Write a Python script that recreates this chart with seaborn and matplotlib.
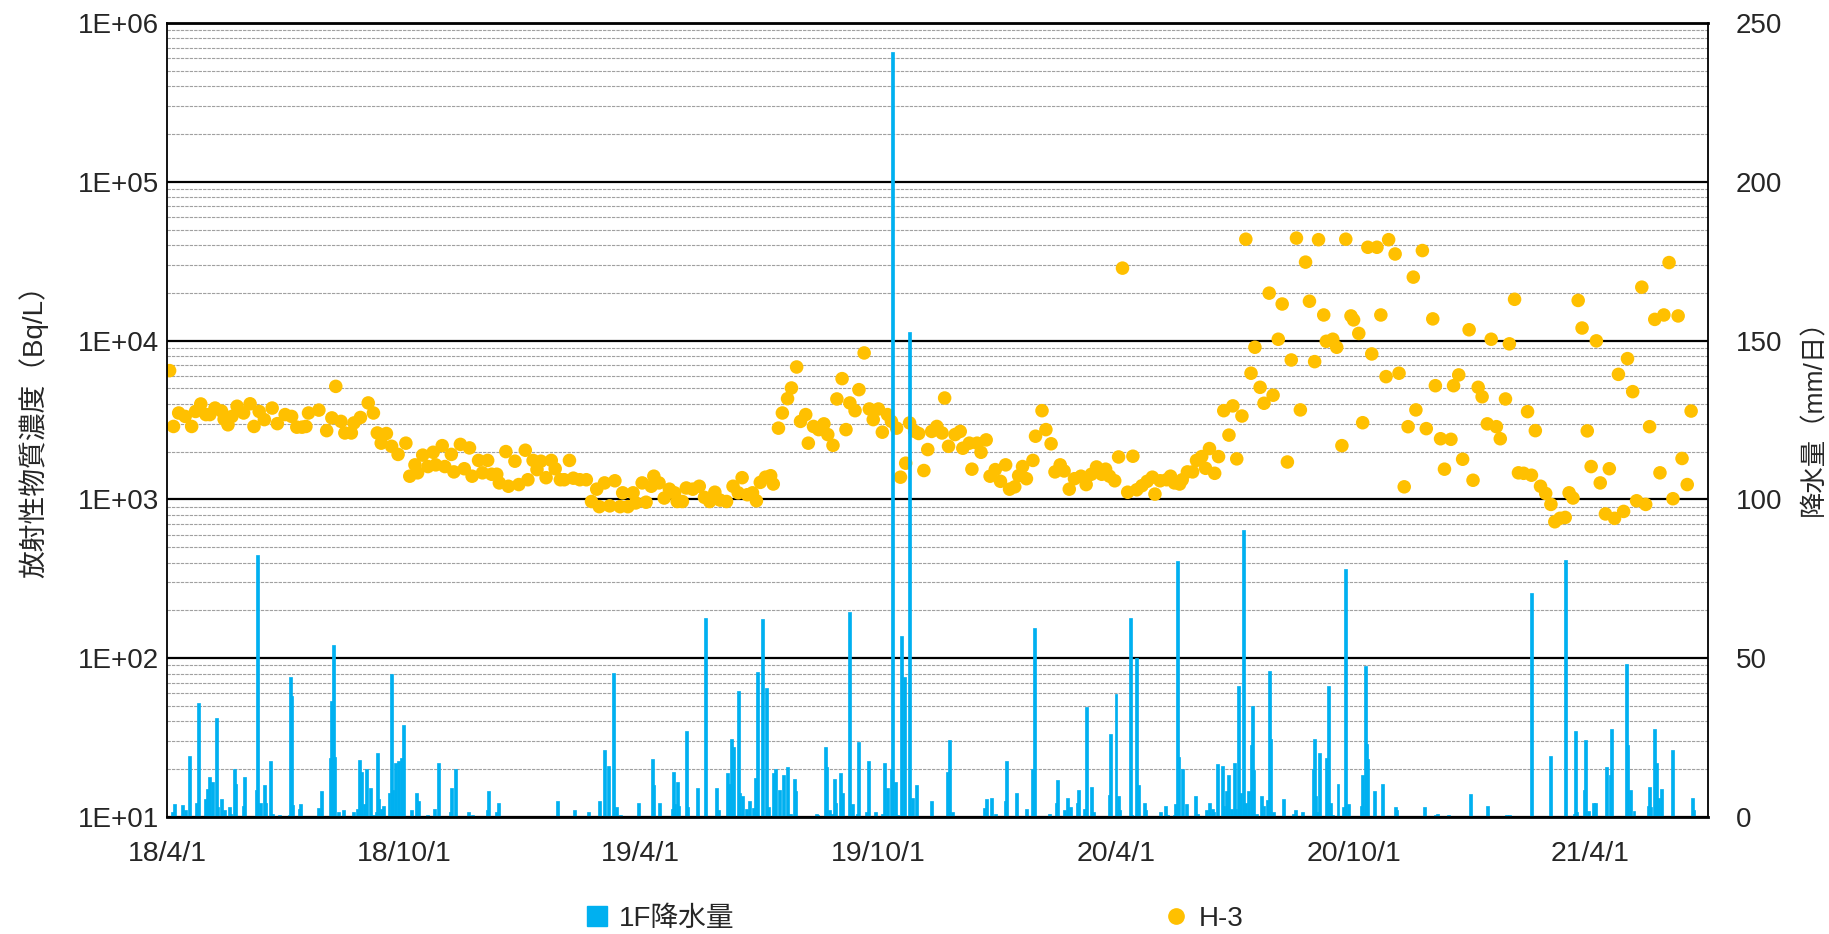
import pandas as pd
import seaborn as sns
import matplotlib
matplotlib.use("Agg")
from matplotlib import pyplot as plt
import matplotlib.dates as mdates
from matplotlib.ticker import LogLocator, FuncFormatter, NullFormatter, MultipleLocator
from matplotlib.lines import Line2D

sns.set_style("white")
plt.rcParams['font.family'] = ['Liberation Sans', 'Noto Sans CJK JP']

# H-3 concentration (Bq/L)
h3_dates = [
    "2018-04-03", "2018-04-06", "2018-04-10", "2018-04-15", "2018-04-20", "2018-04-23", "2018-04-27",
    "2018-05-01", "2018-05-04", "2018-05-08", "2018-05-13", "2018-05-15", "2018-05-18", "2018-05-21",
    "2018-05-25", "2018-05-30", "2018-06-04", "2018-06-07", "2018-06-11", "2018-06-15", "2018-06-21",
    "2018-06-25", "2018-07-01", "2018-07-06", "2018-07-10", "2018-07-14", "2018-07-17", "2018-07-19",
    "2018-07-27", "2018-08-02", "2018-08-06", "2018-08-09", "2018-08-13", "2018-08-16", "2018-08-21",
    "2018-08-23", "2018-08-28", "2018-09-03", "2018-09-07", "2018-09-10", "2018-09-13", "2018-09-17",
    "2018-09-21", "2018-09-26", "2018-10-02", "2018-10-05", "2018-10-09", "2018-10-11", "2018-10-15",
    "2018-10-19", "2018-10-23", "2018-10-25", "2018-10-30", "2018-11-01", "2018-11-06", "2018-11-08",
    "2018-11-13", "2018-11-16", "2018-11-20", "2018-11-22", "2018-11-27", "2018-11-30", "2018-12-04",
    "2018-12-07", "2018-12-11", "2018-12-13", "2018-12-18", "2018-12-20", "2018-12-25", "2018-12-28",
    "2019-01-02", "2019-01-04", "2019-01-08", "2019-01-11", "2019-01-14", "2019-01-18", "2019-01-22",
    "2019-01-25", "2019-01-29", "2019-02-01", "2019-02-05", "2019-02-08", "2019-02-13", "2019-02-18",
    "2019-02-22", "2019-02-26", "2019-02-28", "2019-03-04", "2019-03-08", "2019-03-12", "2019-03-16",
    "2019-03-18", "2019-03-22", "2019-03-26", "2019-03-28", "2019-04-02", "2019-04-05", "2019-04-09",
    "2019-04-11", "2019-04-15", "2019-04-19", "2019-04-23", "2019-04-27", "2019-04-29", "2019-05-03",
    "2019-05-06", "2019-05-11", "2019-05-16", "2019-05-20", "2019-05-24", "2019-05-28", "2019-06-01",
    "2019-06-06", "2019-06-11", "2019-06-15", "2019-06-18", "2019-06-22", "2019-06-26", "2019-06-29",
    "2019-07-02", "2019-07-06", "2019-07-10", "2019-07-12", "2019-07-16", "2019-07-19", "2019-07-23",
    "2019-07-26", "2019-07-30", "2019-08-02", "2019-08-06", "2019-08-08", "2019-08-12", "2019-08-16",
    "2019-08-20", "2019-08-23", "2019-08-27", "2019-08-30", "2019-09-03", "2019-09-06", "2019-09-09",
    "2019-09-13", "2019-09-16", "2019-09-20", "2019-09-24", "2019-09-27", "2019-10-01", "2019-10-04",
    "2019-10-08", "2019-10-11", "2019-10-15", "2019-10-18", "2019-10-22", "2019-10-25", "2019-10-29",
    "2019-11-01", "2019-11-05", "2019-11-08", "2019-11-11", "2019-11-15", "2019-11-19", "2019-11-21",
    "2019-11-24", "2019-11-29", "2019-12-03", "2019-12-05", "2019-12-10", "2019-12-12", "2019-12-16",
    "2019-12-19", "2019-12-23", "2019-12-26", "2019-12-30", "2020-01-03", "2020-01-07", "2020-01-10",
    "2020-01-14", "2020-01-17", "2020-01-20", "2020-01-23", "2020-01-28", "2020-01-30", "2020-02-04",
    "2020-02-07", "2020-02-11", "2020-02-14", "2020-02-18", "2020-02-21", "2020-02-25", "2020-02-29",
    "2020-03-05", "2020-03-09", "2020-03-13", "2020-03-17", "2020-03-21", "2020-03-24", "2020-03-27",
    "2020-03-31", "2020-04-03", "2020-04-06", "2020-04-10", "2020-04-14", "2020-04-17", "2020-04-21",
    "2020-04-25", "2020-04-29", "2020-05-01", "2020-05-05", "2020-05-10", "2020-05-13", "2020-05-16",
    "2020-05-20", "2020-05-22", "2020-05-26", "2020-05-30", "2020-06-02", "2020-06-06", "2020-06-09",
    "2020-06-12", "2020-06-16", "2020-06-19", "2020-06-23", "2020-06-27", "2020-06-30", "2020-07-03",
    "2020-07-07", "2020-07-10", "2020-07-14", "2020-07-17", "2020-07-21", "2020-07-24", "2020-07-28",
    "2020-07-31", "2020-08-04", "2020-08-07", "2020-08-11", "2020-08-14", "2020-08-18", "2020-08-21",
    "2020-08-25", "2020-08-28", "2020-09-01", "2020-09-04", "2020-09-08", "2020-09-10", "2020-09-15",
    "2020-09-18", "2020-09-22", "2020-09-25", "2020-09-29", "2020-10-01", "2020-10-05", "2020-10-08",
    "2020-10-12", "2020-10-15", "2020-10-19", "2020-10-22", "2020-10-26", "2020-10-28", "2020-11-02",
    "2020-11-05", "2020-11-09", "2020-11-12", "2020-11-16", "2020-11-18", "2020-11-23", "2020-11-26",
    "2020-12-01", "2020-12-03", "2020-12-07", "2020-12-10", "2020-12-15", "2020-12-17", "2020-12-21",
    "2020-12-24", "2020-12-29", "2021-01-01", "2021-01-05", "2021-01-08", "2021-01-12", "2021-01-15",
    "2021-01-19", "2021-01-22", "2021-01-26", "2021-01-29", "2021-02-02", "2021-02-05", "2021-02-09",
    "2021-02-12", "2021-02-15", "2021-02-18", "2021-02-22", "2021-02-26", "2021-03-02", "2021-03-05",
    "2021-03-09", "2021-03-13", "2021-03-16", "2021-03-19", "2021-03-23", "2021-03-26", "2021-03-30",
    "2021-04-02", "2021-04-06", "2021-04-09", "2021-04-13", "2021-04-16", "2021-04-20", "2021-04-23",
    "2021-04-27", "2021-04-30", "2021-05-04", "2021-05-07", "2021-05-11", "2021-05-14", "2021-05-17",
    "2021-05-21", "2021-05-25", "2021-05-28", "2021-06-01", "2021-06-04", "2021-06-08", "2021-06-11",
    "2021-06-15", "2021-06-18",
]
h3_values = [
    6470, 2880, 3500, 3330, 2880, 3580, 3990,
    3420, 3420, 3760, 3600, 3200, 2950, 3330,
    3860, 3500, 4000, 2880, 3580, 3180, 3760,
    3000, 3420, 3330, 2850, 2850, 2880, 3500,
    3650, 2710, 3260, 5150, 3100, 2620, 2620,
    3030, 3280, 4050, 3500, 2620, 2260, 2600,
    2160, 1920, 2260, 1400, 1650, 1470, 1900,
    1610, 1980, 1650, 2180, 1610, 1920, 1490,
    2220, 1560, 2110, 1400, 1760, 1470, 1760,
    1440, 1440, 1270, 2000, 1210, 1740, 1240,
    2040, 1330, 1760, 1540, 1740, 1370, 1760,
    1560, 1330, 1330, 1760, 1360, 1330, 1330,
    970, 1160, 900, 1270, 910, 1310, 900,
    1100, 900, 1100, 950, 1270, 960, 1210,
    1400, 1270, 1020, 1160, 1100, 970, 970,
    1180, 1160, 1210, 1030, 970, 1110, 990,
    970, 1210, 1100, 1370, 1070, 1100, 980,
    1280, 1380, 1410, 1250, 2810, 3500, 4310,
    5030, 6820, 3100, 3420, 2260, 2880, 2750,
    2990, 2560, 2190, 4290, 5760, 2750, 4050,
    3620, 4910, 8360, 3710, 3180, 3710, 2650,
    3420, 3100, 2810, 1380, 1690, 3030, 2680,
    2600, 1520, 2060, 2680, 2880, 2620, 4350,
    2160, 2560, 2680, 2100, 2260, 1550, 2260,
    1980, 2370, 1400, 1540, 1300, 1650, 1160,
    1200, 1410, 1610, 1350, 1760, 2500, 3620,
    2750, 2240, 1490, 1650, 1510, 1160, 1350,
    1400, 1240, 1440, 1600, 1440, 1550, 1400,
    1310, 1850, 28600, 1110, 1870, 1150, 1220,
    1300, 1380, 1080, 1310, 1330, 1400, 1270,
    1250, 1330, 1490, 1490, 1760, 1860, 1570,
    2090, 1460, 1860, 3620, 2540, 3880, 1800,
    3350, 43500, 6230, 9080, 5080, 4030, 19900,
    4530, 10200, 17000, 1720, 7550, 44200, 3660,
    31200, 17700, 7370, 43200, 14500, 9900, 10200,
    9080, 2180, 43500, 14300, 13500, 11100, 3040,
    38700, 8240, 38700, 14500, 5930, 43200, 35100,
    6230, 1200, 2870, 25100, 3660, 36900, 2790,
    13700, 5200, 2410, 1550, 2390, 5200, 6080,
    1790, 11700, 1320, 5080, 4430, 2990, 10200,
    2870, 2410, 4290, 9540, 18200, 1470, 1460,
    3570, 1420, 2710, 1210, 1090, 930, 723,
    760, 770, 1100, 1020, 17900, 12000, 2700,
    1610, 9960, 1270, 810, 1560, 760, 6130,
    840, 7700, 4770, 980, 21700, 930, 2870,
    13600, 1470, 14500, 31000, 1010, 14300, 1810,
    1240, 3600,
]

# 1F daily precipitation (mm/day), days with rain
rain_dates = [
    "2018-04-05", "2018-04-07", "2018-04-13", "2018-04-15", "2018-04-18", "2018-04-24", "2018-04-25",
    "2018-05-01", "2018-05-02", "2018-05-04", "2018-05-06", "2018-05-09", "2018-05-10", "2018-05-13",
    "2018-05-15", "2018-05-19", "2018-05-20", "2018-05-23", "2018-05-24", "2018-05-30", "2018-05-31",
    "2018-06-09", "2018-06-10", "2018-06-12", "2018-06-15", "2018-06-16", "2018-06-20", "2018-06-21",
    "2018-06-27", "2018-07-04", "2018-07-05", "2018-07-06", "2018-07-07", "2018-07-12", "2018-07-13",
    "2018-07-27", "2018-07-29", "2018-08-05", "2018-08-06", "2018-08-07", "2018-08-08", "2018-08-11",
    "2018-08-15", "2018-08-23", "2018-08-26", "2018-08-27", "2018-08-29", "2018-08-31", "2018-09-02",
    "2018-09-05", "2018-09-07", "2018-09-09", "2018-09-10", "2018-09-11", "2018-09-13", "2018-09-15",
    "2018-09-19", "2018-09-21", "2018-09-22", "2018-09-24", "2018-09-26", "2018-09-28", "2018-09-29",
    "2018-09-30", "2018-10-06", "2018-10-10", "2018-10-12", "2018-10-19", "2018-10-24", "2018-10-27",
    "2018-11-05", "2018-11-06", "2018-11-09", "2018-11-19", "2018-11-22", "2018-12-04", "2018-12-05",
    "2018-12-11", "2018-12-12", "2019-01-27", "2019-02-09", "2019-02-20", "2019-02-28", "2019-03-04",
    "2019-03-07", "2019-03-11", "2019-03-13", "2019-03-16", "2019-03-30", "2019-04-10", "2019-04-11",
    "2019-04-15", "2019-04-25", "2019-04-26", "2019-04-27", "2019-04-29", "2019-04-30", "2019-05-06",
    "2019-05-07", "2019-05-15", "2019-05-21", "2019-05-29", "2019-05-31", "2019-06-07", "2019-06-08",
    "2019-06-10", "2019-06-11", "2019-06-15", "2019-06-16", "2019-06-18", "2019-06-21", "2019-06-24",
    "2019-06-27", "2019-06-28", "2019-06-30", "2019-07-04", "2019-07-07", "2019-07-08", "2019-07-12",
    "2019-07-14", "2019-07-17", "2019-07-20", "2019-07-23", "2019-07-25", "2019-07-28", "2019-07-29",
    "2019-08-14", "2019-08-15", "2019-08-21", "2019-08-22", "2019-08-24", "2019-08-27", "2019-08-28",
    "2019-08-29", "2019-09-02", "2019-09-03", "2019-09-09", "2019-09-11", "2019-09-15", "2019-09-16",
    "2019-09-22", "2019-09-23", "2019-09-29", "2019-10-04", "2019-10-06", "2019-10-08", "2019-10-11",
    "2019-10-12", "2019-10-14", "2019-10-16", "2019-10-19", "2019-10-21", "2019-10-25", "2019-10-27",
    "2019-10-30", "2019-11-11", "2019-11-23", "2019-11-25", "2019-11-27", "2019-12-22", "2019-12-23",
    "2019-12-27", "2019-12-30", "2020-01-07", "2020-01-08", "2020-01-15", "2020-01-23", "2020-01-28",
    "2020-01-29", "2020-02-10", "2020-02-15", "2020-02-16", "2020-02-21", "2020-02-24", "2020-02-26",
    "2020-03-02", "2020-03-03", "2020-03-08", "2020-03-09", "2020-03-13", "2020-03-15", "2020-03-27",
    "2020-03-28", "2020-04-01", "2020-04-02", "2020-04-03", "2020-04-04", "2020-04-12", "2020-04-13",
    "2020-04-17", "2020-04-18", "2020-04-23", "2020-04-24", "2020-05-05", "2020-05-09", "2020-05-11",
    "2020-05-16", "2020-05-17", "2020-05-18", "2020-05-19", "2020-05-22", "2020-05-25", "2020-06-01",
    "2020-06-03", "2020-06-10", "2020-06-12", "2020-06-14", "2020-06-15", "2020-06-18", "2020-06-22",
    "2020-06-23", "2020-06-25", "2020-06-27", "2020-06-29", "2020-07-01", "2020-07-02", "2020-07-04",
    "2020-07-06", "2020-07-08", "2020-07-10", "2020-07-12", "2020-07-14", "2020-07-15", "2020-07-16",
    "2020-07-18", "2020-07-22", "2020-07-24", "2020-07-27", "2020-07-28", "2020-07-29", "2020-07-31",
    "2020-08-08", "2020-08-16", "2020-08-17", "2020-08-23", "2020-08-31", "2020-09-01", "2020-09-02",
    "2020-09-03", "2020-09-05", "2020-09-10", "2020-09-12", "2020-09-13", "2020-09-15", "2020-09-19",
    "2020-09-23", "2020-09-25", "2020-09-27", "2020-10-07", "2020-10-08", "2020-10-10", "2020-10-11",
    "2020-10-12", "2020-10-17", "2020-10-23", "2020-11-02", "2020-11-03", "2020-11-25", "2020-12-03",
    "2020-12-05", "2020-12-13", "2020-12-30", "2021-01-12", "2021-01-27", "2021-01-29", "2021-02-15",
    "2021-03-02", "2021-03-13", "2021-03-20", "2021-03-21", "2021-03-22", "2021-03-28", "2021-03-29",
    "2021-03-31", "2021-04-04", "2021-04-05", "2021-04-14", "2021-04-17", "2021-04-18", "2021-04-29",
    "2021-04-30", "2021-05-02", "2021-05-05", "2021-05-16", "2021-05-17", "2021-05-18", "2021-05-21",
    "2021-05-22", "2021-05-24", "2021-05-26", "2021-06-04", "2021-06-19", "2021-06-20",
]
rain_mm = [
    1.6, 4.2, 3.7, 2.1, 19.1, 4.5, 36,
    5.8, 8.9, 12.6, 11, 31.2, 3.2, 5.6,
    2.1, 3.2, 1, 15.1, 10.5, 3.5, 12.6,
    8.4, 82.6, 4.5, 10, 4.5, 17.7, 1,
    0.5, 0.5, 44.1, 38.1, 3.9, 2.6, 4.2,
    2.9, 8.2, 18.5, 36.6, 54.2, 18.9, 1.6,
    2.1, 1.6, 2.6, 18.1, 14.2, 4.2, 15.1,
    9.1, 0.5, 1.6, 20.2, 5.6, 2.6, 3.5,
    7.6, 45.1, 8.6, 17.1, 17.7, 1.6, 18.5,
    29.1, 2.1, 7.6, 4.9, 0.5, 2.6, 17,
    1.6, 9, 15.1, 1.6, 0.5, 2.1, 8.2,
    1.6, 4.5, 5, 2.1, 1.6, 5, 21.2,
    16.1, 45.2, 3.2, 0.5, 4.5, 18.2, 10,
    4.5, 2.6, 14.2, 4.2, 11, 3.5, 27.1,
    3.2, 9, 62.6, 9, 2.1, 13.7, 10.5,
    24.5, 21.9, 39.7, 7.6, 6.6, 2.6, 5,
    2.9, 12.4, 45.5, 62.3, 40.7, 3.2, 13.7,
    15.2, 8.6, 13.1, 15.6, 0.8, 12.1, 8.2,
    1, 0.5, 22.1, 15.6, 2.1, 1, 12.1,
    4.5, 14, 7.6, 64.7, 4, 1, 23.6,
    1.6, 17.7, 1.6, 1, 17.1, 9, 15,
    240.8, 11, 0.5, 57, 44, 152.6, 6.1,
    10, 5, 14.2, 24.2, 1.6, 2.8, 5.6,
    6.1, 1, 5, 17.7, 7.6, 2.6, 15,
    59.6, 1, 4.5, 11.6, 2.1, 6.1, 3.2,
    4.5, 8.6, 2.6, 34.7, 9.5, 1.6, 7,
    26.1, 38.7, 1.6, 6.6, 2.1, 62.7, 0.5,
    50.1, 10, 4.5, 2.1, 1.6, 3.5, 0.5,
    0.5, 4.2, 80.7, 18.9, 15, 4.2, 6.6,
    1, 2.1, 4.5, 2.6, 1.6, 16.6, 16.1,
    3.5, 8.2, 13.1, 2.6, 17.1, 2.6, 41.2,
    7.7, 90.5, 4.5, 8.2, 22.6, 35, 14.7,
    1, 6.6, 3.5, 5.3, 46, 24.5, 1.6,
    5.6, 1, 2.1, 1.6, 15, 24.7, 6.6,
    1.6, 20.2, 18.7, 41.3, 4.5, 0.5, 10.5,
    3.2, 78.1, 4.2, 3.5, 13.1, 47.6, 22.9,
    18.2, 8.2, 10.5, 3.2, 2.1, 3.2, 0.5,
    1, 0.5, 7.1, 3.5, 0.5, 0.5, 70.6,
    19.1, 80.8, 0.8, 27.1, 1.6, 8.4, 24.2,
    1.9, 4.5, 4.5, 15.6, 13.1, 27.6, 48.1,
    22.6, 8.6, 1.9, 3.5, 9.5, 3.2, 27.6,
    17.1, 6.1, 8.9, 21, 6.1, 2.1,
]

h3 = pd.DataFrame({"date": pd.to_datetime(h3_dates), "H-3": h3_values})
rain = pd.DataFrame({"date": pd.to_datetime(rain_dates), "mm": rain_mm})

fig, ax = plt.subplots(figsize=(18.29, 9.34), dpi=100)
fig.subplots_adjust(left=167/1829, right=1708/1829, top=1-23/934, bottom=1-817/934)

# H-3 on the left log axis
sns.scatterplot(data=h3, x="date", y="H-3", ax=ax, color="#FFC000", s=95,
                edgecolor="none", legend=False, zorder=3)
ax.set_yscale("log")
ax.set_ylim(10, 1e6)
ax.set_xlim(pd.Timestamp("2018-04-01"), pd.Timestamp("2021-07-01"))
ax.yaxis.set_major_locator(LogLocator(base=10, numticks=10))
ax.yaxis.set_minor_locator(LogLocator(base=10, subs=range(2, 10), numticks=100))
ax.yaxis.set_major_formatter(FuncFormatter(lambda v, _: f"{v:.0E}"))
ax.yaxis.set_minor_formatter(NullFormatter())
ax.set_axisbelow(True)
ax.grid(which="major", axis="y", color="black", linewidth=1.6)
ax.grid(which="minor", axis="y", color="#a0a0a0", linewidth=0.8, linestyle=(0, (3, 1)))
ax.grid(which="both", axis="x", visible=False)
ax.set_xlabel("")
ax.set_ylabel("")

ax.xaxis.set_major_locator(mdates.MonthLocator(bymonth=[4, 10]))
ax.xaxis.set_minor_locator(mdates.MonthLocator())
ax.xaxis.set_major_formatter(mdates.DateFormatter("%y/%-m/%-d"))
ax.tick_params(axis="x", which="both", length=7, width=1, color="#404040",
               direction="out", labelsize=20.5, pad=10)
ax.tick_params(axis="y", which="both", length=0, labelsize=20, pad=6)

# precipitation bars on the right axis
ax2 = ax.twinx()
ax2.bar(rain["date"], rain["mm"], width=2.3, color="#00B0F0",
        edgecolor="#00B0F0", linewidth=0.5, zorder=2)
ax2.set_ylim(0, 250)
ax2.yaxis.set_major_locator(MultipleLocator(50))
ax2.tick_params(axis="y", length=0, labelsize=20, pad=20)
ax2.grid(False)
for side in ["left", "right"]:
    ax2.spines[side].set_color("black")
    ax2.spines[side].set_linewidth(1.3)
for side in ["top", "bottom"]:
    ax2.spines[side].set_color("black")
    ax2.spines[side].set_linewidth(2.0)
for s in ax.spines.values():
    s.set_visible(False)

fig.text(33/1829, 1-425/934, "放射性物質濃度（Bq/L）", rotation=90,
         ha="center", va="center", fontsize=20)
fig.text(1814/1829, 1-411/934, "降水量（mm/日）", rotation=90,
         ha="center", va="center", fontsize=19)

handles = [
    Line2D([], [], marker="s", color="#00B0F0", linestyle="", markersize=15),
    Line2D([], [], marker="o", color="#FFC000", linestyle="", markersize=11),
]
fig.legend(handles, ["1F降水量", "H-3"], loc="center", bbox_to_anchor=(0.5, 1-919/934),
           ncol=2, frameon=False, fontsize=20, columnspacing=15.5,
           handlelength=0.8, handletextpad=0.4)

plt.savefig("out.png", dpi=100)
